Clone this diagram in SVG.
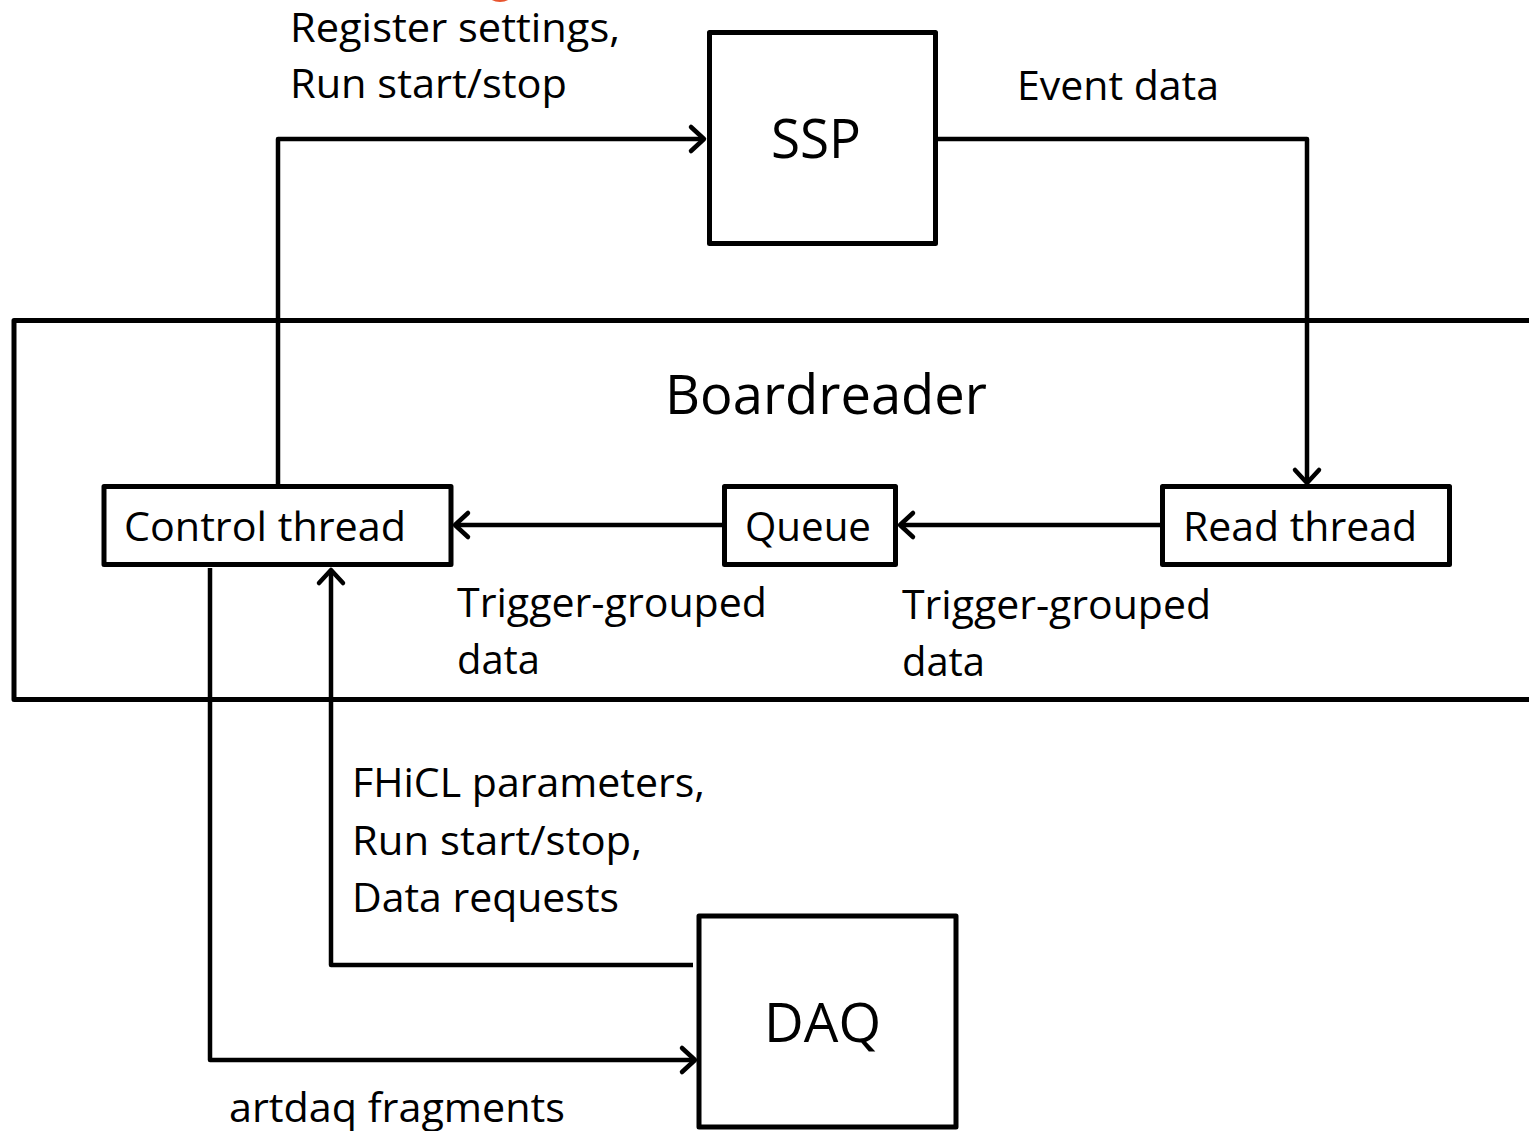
<svg xmlns="http://www.w3.org/2000/svg" width="1529" height="1131" viewBox="0 0 1529 1131">
<style>
.box{fill:#fff;stroke:#000;stroke-width:5;stroke-linejoin:round}
.ln{fill:none;stroke:#000;stroke-width:4.5;stroke-linejoin:round}
.t{font-family:"Open Sans","Liberation Sans",sans-serif;fill:#000}
.s{font-size:40px}
.b{font-size:54px}
</style>
<defs>
<marker id="arr" markerUnits="userSpaceOnUse" markerWidth="40" markerHeight="40" viewBox="-20 -20 40 40" refX="0" refY="0" orient="auto" overflow="visible">
<path d="M-13,-12 L0,0 L-13,12" fill="none" stroke="#000" stroke-width="4.5" stroke-linecap="round" stroke-linejoin="round"/>
</marker>
</defs>
<rect width="1529" height="1131" fill="#fff"/>
<ellipse cx="500" cy="-7" rx="13" ry="9" fill="#E8552F"/>

<g id="boardreader">
<path d="M1531,320.5 H14 V699.5 H1531" fill="none" stroke="#000" stroke-width="5" stroke-linejoin="round"/>
<text class="t b" x="665" y="414" textLength="322" lengthAdjust="spacingAndGlyphs">Boardreader</text>
</g>

<g id="connectors">
<path class="ln" d="M278,486 V139 H704" marker-end="url(#arr)"/>
<path class="ln" d="M938,139 H1307 V483" marker-end="url(#arr)"/>
<path class="ln" d="M1160,525 H900" marker-end="url(#arr)"/>
<path class="ln" d="M722,525 H455" marker-end="url(#arr)"/>
<path class="ln" d="M693,965 H331 V570" marker-end="url(#arr)"/>
<path class="ln" d="M210,568 V1060 H695" marker-end="url(#arr)"/>
</g>

<g id="ssp">
<rect class="box" x="709.5" y="32.5" width="226" height="211"/>
<text class="t b" x="771" y="158" textLength="90" lengthAdjust="spacingAndGlyphs">SSP</text>
</g>

<g id="control-thread">
<rect class="box" x="104" y="486.5" width="347" height="78"/>
<text class="t s" x="124" y="541" textLength="282" lengthAdjust="spacingAndGlyphs">Control thread</text>
</g>

<g id="queue">
<rect class="box" x="724.5" y="486.5" width="171" height="78"/>
<text class="t s" x="745" y="541" textLength="126" lengthAdjust="spacingAndGlyphs">Queue</text>
</g>

<g id="read-thread">
<rect class="box" x="1162.5" y="486.5" width="287" height="78"/>
<text class="t s" x="1183" y="541" textLength="234" lengthAdjust="spacingAndGlyphs">Read thread</text>
</g>

<g id="daq">
<rect class="box" x="699" y="916" width="257" height="211"/>
<text class="t b" x="764" y="1042" textLength="117" lengthAdjust="spacingAndGlyphs">DAQ</text>
</g>

<g id="labels">
<text class="t s" x="290" y="42" textLength="330" lengthAdjust="spacingAndGlyphs">Register settings,</text>
<text class="t s" x="290" y="98" textLength="277" lengthAdjust="spacingAndGlyphs">Run start/stop</text>
<text class="t s" x="1017" y="100" textLength="202" lengthAdjust="spacingAndGlyphs">Event data</text>
<text class="t s" x="457" y="617" textLength="310" lengthAdjust="spacingAndGlyphs">Trigger-grouped</text>
<text class="t s" x="457" y="674" textLength="83" lengthAdjust="spacingAndGlyphs">data</text>
<text class="t s" x="902" y="619" textLength="309" lengthAdjust="spacingAndGlyphs">Trigger-grouped</text>
<text class="t s" x="902" y="676" textLength="83" lengthAdjust="spacingAndGlyphs">data</text>
<text class="t s" x="352" y="797" textLength="353" lengthAdjust="spacingAndGlyphs">FHiCL parameters,</text>
<text class="t s" x="352" y="855" textLength="290" lengthAdjust="spacingAndGlyphs">Run start/stop,</text>
<text class="t s" x="352" y="912" textLength="267" lengthAdjust="spacingAndGlyphs">Data requests</text>
<text class="t s" x="229" y="1122" textLength="336" lengthAdjust="spacingAndGlyphs">artdaq fragments</text>
</g>
</svg>
